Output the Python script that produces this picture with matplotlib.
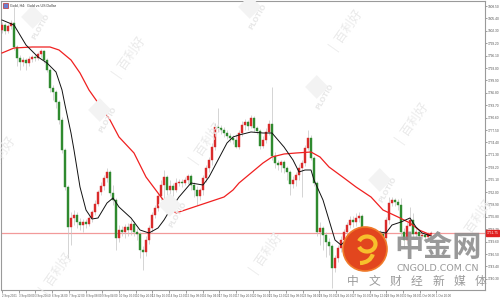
import matplotlib
matplotlib.use("Agg")
import matplotlib.pyplot as plt
import numpy as np
from matplotlib.patches import Rectangle, Circle, Arc

# Gold H4 candles, prices
first_open = 1802.50
closes = [1803.75, 1802.25, 1803.50, 1804.25, 1798.25, 1795.50, 1794.50, 1795.00, 1794.25, 1795.25,
          1795.75, 1795.50, 1796.50, 1797.25, 1795.00, 1792.50, 1788.00, 1787.00, 1784.50, 1780.00,
          1772.50, 1763.25, 1753.25, 1755.50, 1756.25, 1754.50, 1753.75, 1754.50, 1754.00, 1755.50,
          1757.00, 1759.00, 1762.00, 1763.50, 1765.50, 1767.00, 1761.75, 1760.00, 1750.50, 1752.50,
          1752.00, 1753.25, 1752.50, 1754.00, 1752.00, 1751.50, 1747.50, 1747.00, 1750.00, 1753.00,
          1756.25, 1758.00, 1761.00, 1763.75, 1765.75, 1762.50, 1763.50, 1762.50, 1764.25, 1764.50,
          1764.25, 1765.00, 1766.00, 1763.75, 1762.50, 1761.00, 1762.50, 1765.50, 1768.00, 1770.00,
          1773.25, 1778.25, 1778.00, 1777.50, 1776.75, 1776.00, 1775.50, 1775.00, 1773.25, 1776.75,
          1778.75, 1779.50, 1778.50, 1780.50, 1778.00, 1777.25, 1773.50, 1775.00, 1777.00, 1779.00,
          1771.00, 1769.25, 1768.75, 1769.50, 1768.00, 1767.00, 1764.00, 1765.00, 1766.25, 1768.00,
          1769.25, 1773.00, 1775.50, 1770.50, 1764.25, 1752.00, 1753.00, 1751.25, 1749.50, 1748.50,
          1743.00, 1745.50, 1748.00, 1750.00, 1752.00, 1753.75, 1755.00, 1754.50, 1755.50, 1756.00,
          1751.00, 1750.50, 1751.50, 1751.00, 1751.75, 1751.00, 1751.50, 1750.50, 1755.00, 1759.25,
          1760.00, 1759.50, 1758.75, 1752.00, 1750.00, 1753.50, 1755.00, 1751.50, 1752.00, 1751.00,
          1751.25, 1750.75, 1751.50, 1751.75]
highs = [1804.50, 1804.25, 1804.00, 1805.00, 1808.25, 1798.75, 1796.25, 1795.75, 1795.50, 1796.00,
         1796.25, 1796.50, 1797.00, 1797.75, 1797.50, 1795.50, 1793.00, 1788.75, 1787.50, 1785.00,
         1780.75, 1773.00, 1763.75, 1757.00, 1757.50, 1757.00, 1755.50, 1755.25, 1755.25, 1756.00,
         1757.50, 1760.00, 1762.50, 1764.50, 1766.25, 1768.00, 1767.50, 1763.75, 1760.50, 1753.75,
         1753.50, 1754.00, 1754.25, 1755.00, 1754.75, 1753.00, 1752.00, 1748.50, 1751.00, 1753.75,
         1757.00, 1758.75, 1761.75, 1765.00, 1767.50, 1766.25, 1765.00, 1764.25, 1765.50, 1765.25,
         1765.25, 1765.75, 1766.50, 1766.50, 1764.50, 1763.50, 1763.00, 1766.25, 1768.75, 1770.75,
         1774.25, 1779.25, 1783.00, 1778.75, 1778.25, 1777.50, 1776.75, 1776.25, 1776.50, 1777.50,
         1779.75, 1780.25, 1780.00, 1781.25, 1781.00, 1778.50, 1777.75, 1776.00, 1778.00, 1780.00,
         1788.25, 1772.00, 1770.00, 1770.00, 1770.00, 1768.50, 1767.50, 1766.00, 1767.00, 1769.00,
         1770.00, 1773.75, 1777.50, 1776.25, 1771.00, 1764.75, 1754.50, 1753.50, 1752.00, 1750.50,
         1749.00, 1746.25, 1748.75, 1751.00, 1752.75, 1754.50, 1756.00, 1756.00, 1756.75, 1757.00,
         1756.50, 1752.00, 1752.50, 1752.50, 1752.75, 1752.50, 1752.50, 1752.25, 1755.75, 1760.75,
         1760.75, 1760.50, 1760.25, 1760.50, 1753.00, 1754.50, 1758.25, 1756.75, 1753.00, 1752.75,
         1752.00, 1751.75, 1752.00, 1752.25]
lows = [1801.75, 1801.50, 1801.75, 1802.75, 1797.50, 1793.50, 1792.50, 1793.50, 1792.50, 1793.50,
        1794.50, 1794.75, 1795.00, 1795.75, 1794.25, 1792.00, 1787.00, 1785.00, 1783.00, 1779.00,
        1771.75, 1762.50, 1745.50, 1748.75, 1753.75, 1753.00, 1752.50, 1752.00, 1753.00, 1753.50,
        1754.50, 1756.25, 1758.50, 1761.25, 1762.50, 1764.50, 1761.00, 1758.75, 1747.50, 1749.50,
        1751.00, 1750.50, 1751.00, 1751.25, 1751.00, 1750.00, 1745.50, 1742.50, 1746.00, 1749.00,
        1752.00, 1755.50, 1757.25, 1760.00, 1760.00, 1761.25, 1761.50, 1761.00, 1762.00, 1763.50,
        1763.25, 1763.75, 1764.00, 1762.50, 1760.75, 1758.75, 1760.00, 1761.25, 1764.50, 1767.00,
        1768.75, 1772.50, 1777.00, 1776.50, 1775.75, 1775.25, 1774.50, 1774.00, 1773.00, 1772.75,
        1776.00, 1777.50, 1777.50, 1778.00, 1777.00, 1776.50, 1772.75, 1773.00, 1774.25, 1776.25,
        1770.00, 1768.00, 1767.50, 1767.00, 1766.75, 1765.00, 1761.25, 1763.00, 1763.50, 1765.00,
        1760.75, 1768.50, 1772.50, 1770.00, 1763.50, 1751.00, 1748.75, 1747.50, 1745.75, 1746.25,
        1738.00, 1742.00, 1744.50, 1747.00, 1749.00, 1751.00, 1753.00, 1753.25, 1753.50, 1754.50,
        1750.00, 1748.75, 1749.25, 1749.75, 1750.00, 1749.50, 1750.00, 1749.00, 1749.50, 1754.00,
        1758.50, 1758.50, 1757.50, 1751.00, 1748.00, 1749.00, 1754.00, 1750.50, 1750.75, 1750.25,
        1750.25, 1750.00, 1750.25, 1750.75]

# moving averages, sampled at bar indices
ma_fast_idx = [0, 4, 8, 12, 15, 18, 20, 21, 23, 24, 26, 28, 30, 32, 35, 37, 39, 43, 46, 49,
               52, 54, 56, 59, 63, 67, 69, 72, 75, 77, 79, 83, 87, 90, 94, 97, 99, 101, 103, 104,
               107, 109, 111, 113, 114, 117, 121, 124, 128, 130, 133, 136, 138, 140, 143]
ma_fast = [1805.00, 1803.75, 1798.75, 1795.75, 1794.25, 1792.00, 1787.50, 1783.75, 1776.75, 1772.50,
           1763.25, 1757.50, 1755.25, 1755.50, 1759.25, 1760.50, 1758.25, 1755.50, 1752.50, 1751.75,
           1753.00, 1755.00, 1757.50, 1760.75, 1764.25, 1763.75, 1765.75, 1770.00, 1774.25, 1775.75,
           1776.25, 1777.00, 1776.75, 1776.75, 1773.25, 1770.00, 1767.00, 1767.50, 1767.50, 1765.00,
           1760.00, 1755.00, 1750.00, 1748.75, 1749.50, 1751.00, 1752.50, 1752.25, 1751.75, 1753.75,
           1754.50, 1755.50, 1753.25, 1751.75, 1751.00]
ma_slow_idx = [0, 4, 10, 16, 19, 23, 26, 29, 33, 36, 39, 44, 48, 53, 56, 58, 63, 68, 74, 77,
               79, 83, 87, 90, 94, 98, 103, 106, 109, 114, 118, 123, 127, 132, 136, 139, 143]
ma_slow = [1796.75, 1798.00, 1798.25, 1798.25, 1797.50, 1795.00, 1791.75, 1787.50, 1783.25, 1780.00,
           1775.75, 1771.75, 1765.75, 1760.75, 1758.00, 1756.75, 1758.00, 1759.25, 1760.75, 1762.50,
           1764.25, 1766.75, 1769.25, 1770.75, 1771.50, 1771.75, 1772.00, 1770.75, 1768.25, 1765.50,
           1763.25, 1760.75, 1757.50, 1755.75, 1754.25, 1752.50, 1751.25]

price_ticks = [1808.50 - 3.10 * k for k in range(23)]
date_labels = ["2 Sep 2021", "3 Sep 00:00", "3 Sep 20:00", "6 Sep 16:00", "7 Sep 12:00",
               "8 Sep 08:00", "9 Sep 04:00", "10 Sep 00:00", "10 Sep 20:00", "13 Sep 16:00",
               "14 Sep 12:00", "15 Sep 08:00", "16 Sep 04:00", "17 Sep 00:00", "17 Sep 20:00",
               "20 Sep 16:00", "21 Sep 12:00", "22 Sep 08:00", "23 Sep 04:00", "24 Sep 00:00",
               "24 Sep 20:00", "27 Sep 16:00", "28 Sep 12:00", "29 Sep 08:00", "30 Sep 04:00",
               "1 Oct 00:00", "1 Oct 20:00"]

UP = "#d92b2b"
DOWN = "#2f8a2f"
WICK = "#c4c4c4"
CJK = ["Noto Sans CJK SC", "DejaVu Sans"]
SMALL = "Liberation Sans"


def draw_candles(ax):
    opens = [first_open] + closes[:-1]
    for i, (o, h, l, c) in enumerate(zip(opens, highs, lows, closes)):
        ax.vlines(i, l, h, color=WICK, lw=0.5, zorder=2)
        col = UP if c >= o else DOWN
        body = max(abs(c - o), 0.25)
        ax.add_patch(Rectangle((i - 0.28, min(o, c)), 0.56, body, facecolor=col,
                               edgecolor=col, lw=0.3, zorder=3))


def draw_watermarks(fig):
    # faint broker logos behind the chart, given in pixels of the 500x300 picture
    plotio = [(33, 17), (100, 110), (170, 205), (250, 7), (317, 87), (380, 180)]
    blh = [(130, 57), (207, 143), (0, 157), (57, 273), (347, 30), (413, 123), (267, 253), (477, 220)]
    for (px, py) in plotio:
        fig.text(px / 500, 1 - py / 300, "\u25C6", fontsize=22, color="#f3f3f3",
                 ha="center", va="center", zorder=0)
        fig.text((px + 8) / 500, 1 - (py + 10) / 300, "PLOTIO", fontsize=5, color="#e8e8e8",
                 rotation=60, ha="center", va="center", fontweight="bold", zorder=0)
    for (px, py) in blh:
        fig.text(px / 500, 1 - py / 300, "|  百利好", fontsize=9, color="#eaeaea",
                 rotation=55, ha="center", va="center", family=CJK, zorder=0)


def draw_cngold(fig):
    # 中金网 badge in the lower right corner
    c = Circle((3.65, 3 - 2.49), 0.22, transform=fig.dpi_scale_trans,
               facecolor="#e2461e", edgecolor="#f07a2a", lw=1.2, zorder=10)
    fig.add_artist(c)
    fig.add_artist(Arc((3.67, 3 - 2.44), 0.17, 0.15, theta1=200, theta2=520,
                       transform=fig.dpi_scale_trans, color="#f7c02c", lw=3, zorder=11))
    fig.add_artist(Arc((3.60, 3 - 2.52), 0.26, 0.22, theta1=270, theta2=350,
                       transform=fig.dpi_scale_trans, color="#f7c02c", lw=3, zorder=11))
    fig.text(438 / 500, 1 - 247 / 300, "中金网", fontsize=21, color="#8e8e8e",
             fontweight="bold", ha="center", va="center", family=CJK, zorder=10, alpha=0.9)
    fig.text(438 / 500, 1 - 268.5 / 300, "CNGOLD.COM.CN", fontsize=6.8, color="#9a9a9a",
             ha="center", va="center", zorder=10)
    for k, ch in enumerate("中文财经新媒体"):
        fig.text((353 + k * 21.3) / 500, 1 - 281 / 300, ch, fontsize=8.5, color="#9a9a9a",
                 ha="center", va="center", family=CJK, zorder=10)


def main():
    fig = plt.figure(figsize=(5, 3), dpi=100)
    fig.patch.set_facecolor("white")
    ax = fig.add_axes([0.002, 1 - 290 / 300, 0.968, 289 / 300])
    ax.set_facecolor("none")

    draw_watermarks(fig)
    draw_candles(ax)

    ax.plot(ma_slow_idx, ma_slow, color="#f02020", lw=0.9, zorder=4)
    ax.plot(ma_fast_idx, ma_fast, color="#111111", lw=0.7, zorder=5)

    last = closes[-1]
    ax.axhline(last, color="#f29a9a", lw=0.9, zorder=1)

    ax.set_xlim(-1 / 3, 161)
    ax.set_ylim(1737.5, 1809.75)

    ax.yaxis.tick_right()
    ax.set_yticks(price_ticks)
    ax.set_yticklabels(["%.2f" % p for p in price_ticks], fontsize=2.3, color="#555555",
                       family=SMALL)
    ax.tick_params(axis="y", length=1.2, width=0.4, pad=0.6, colors="#555555")

    ax.set_xticks(np.arange(len(date_labels)) * 5.57)
    ax.set_xticklabels(date_labels, fontsize=2.1, color="#555555", ha="left", family=SMALL)
    ax.tick_params(axis="x", length=2, width=0.4, pad=0.8, colors="#555555")

    for s in ax.spines.values():
        s.set_color("#9a9a9a")
        s.set_linewidth(0.8)

    # price tag on the right axis
    ax.text(1.003, (last - 1737.5) / (1809.75 - 1737.5), "%.2f" % last, transform=ax.transAxes,
            fontsize=2.3, color="white", va="center", ha="left", family=SMALL,
            bbox=dict(boxstyle="square,pad=0.2", fc="#e02020", ec="#e02020"), zorder=6,
            clip_on=False)

    # chart caption
    fig.add_artist(Rectangle((3 / 500, 1 - 8 / 300), 5 / 500, 5 / 300, transform=fig.transFigure,
                             facecolor="#6b7fd0", edgecolor="#c03030", lw=0.5))
    fig.text(10 / 500, 1 - 5.5 / 300, "Gold, H4:  Gold vs US Dollar", fontsize=2.6,
             color="#333333", va="center", family=SMALL)

    draw_cngold(fig)

    fig.savefig("out.png", dpi=100)


if __name__ == '__main__':
    main()
